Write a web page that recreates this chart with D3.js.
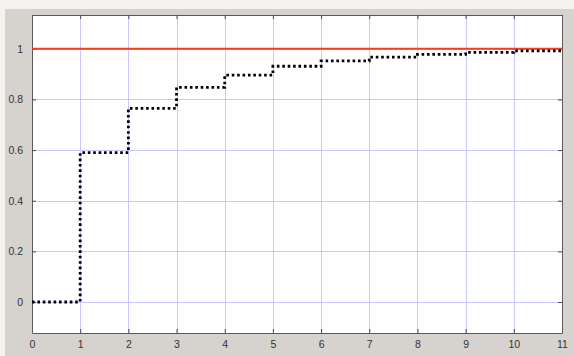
<!DOCTYPE html>
<html>
<head>
<meta charset="utf-8">
<script src="https://cdn.jsdelivr.net/npm/d3@7/dist/d3.min.js"></script>
<style>
  html, body { margin: 0; padding: 0; background: #f4f3f0; }
  svg { display: block; }
  text { font-family: "Liberation Sans", Arial, sans-serif; }
</style>
</head>
<body>
<svg id="chart" width="574" height="356"></svg>
<script>
// Empirical step values: level held on [k, k+1)
const steps = [0, 1, 2, 3, 4, 5, 6, 7, 8, 9, 10, 11];
const cdfValues = [0, 0.59, 0.765, 0.848, 0.896, 0.931, 0.952, 0.967, 0.978, 0.986, 0.992, 0.992];
const referenceLevel = [1];
const xTicks = [0, 1, 2, 3, 4, 5, 6, 7, 8, 9, 10, 11];
const yTicks = [0, 0.2, 0.4, 0.6, 0.8, 1];

const svg = d3.select("#chart");
const W = 574, H = 356;
const m = { left: 32, right: 12, top: 15, bottom: 23 };

// figure background
svg.append("rect").attr("x", 5).attr("y", 9).attr("width", W - 5).attr("height", H - 9)
  .attr("fill", "#d6d3ce");

const x = d3.scaleLinear().domain([0, 11]).range([m.left, W - m.right]);
const y = d3.scaleLinear().domain([-0.1225, 1.1335]).range([H - m.bottom, m.top]);

// axes area
svg.append("rect")
  .attr("x", x(0)).attr("y", y(1.1335))
  .attr("width", x(11) - x(0)).attr("height", y(-0.1225) - y(1.1335))
  .attr("fill", "#ffffff");

// grid
const grid = svg.append("g").attr("stroke", "#c8c8ff").attr("stroke-width", 1);
grid.selectAll("line.v").data(xTicks.slice(1, -1)).join("line")
  .attr("x1", d => Math.round(x(d)) + 0.5).attr("x2", d => Math.round(x(d)) + 0.5)
  .attr("y1", y(1.1335)).attr("y2", y(-0.1225));
grid.selectAll("line.h").data(yTicks).join("line")
  .attr("y1", d => Math.round(y(d)) + 0.5).attr("y2", d => Math.round(y(d)) + 0.5)
  .attr("x1", x(0)).attr("x2", x(11));

// axes with inward ticks on all four sides
const tickLen = 4;
const axBottom = svg.append("g").attr("transform", `translate(0,${y(-0.1225)})`)
  .call(d3.axisBottom(x).tickValues(xTicks).tickSizeInner(-tickLen).tickSizeOuter(0).tickPadding(8).tickFormat(d3.format("d")));
const axTop = svg.append("g").attr("transform", `translate(0,${y(1.1335)})`)
  .call(d3.axisTop(x).tickValues(xTicks).tickSizeInner(-tickLen).tickSizeOuter(0).tickFormat(""));
const axLeft = svg.append("g").attr("transform", `translate(${x(0)},0)`)
  .call(d3.axisLeft(y).tickValues(yTicks).tickSizeInner(-tickLen).tickSizeOuter(0).tickPadding(9).tickFormat(d => d === 0 ? "0" : d3.format("~g")(d)));
const axRight = svg.append("g").attr("transform", `translate(${x(11)},0)`)
  .call(d3.axisRight(y).tickValues(yTicks).tickSizeInner(-tickLen).tickSizeOuter(0).tickFormat(""));

[axBottom, axTop, axLeft, axRight].forEach(g => {
  g.select(".domain").attr("stroke", "#5a5a5a").attr("stroke-width", 1);
  g.selectAll(".tick line").attr("stroke", "#4a4a4a");
  g.selectAll(".tick text").attr("fill", "#333333").attr("font-size", 10.5);
});

// reference level at 1
svg.append("g").selectAll("line").data(referenceLevel).join("line")
  .attr("x1", x(0)).attr("x2", x(11))
  .attr("y1", d => y(d)).attr("y2", d => y(d))
  .attr("stroke", "#f0401c").attr("stroke-width", 2);

// step curve
const pts = steps.map((s, i) => [s, cdfValues[i]]);
const line = d3.line().x(d => x(d[0])).y(d => y(d[1])).curve(d3.curveStepAfter);
svg.append("path").datum(pts)
  .attr("d", line)
  .attr("fill", "none")
  .attr("stroke", "#000000")
  .attr("stroke-width", 2.8)
  .attr("stroke-dasharray", "2.6 2.8");
</script>
</body>
</html>
